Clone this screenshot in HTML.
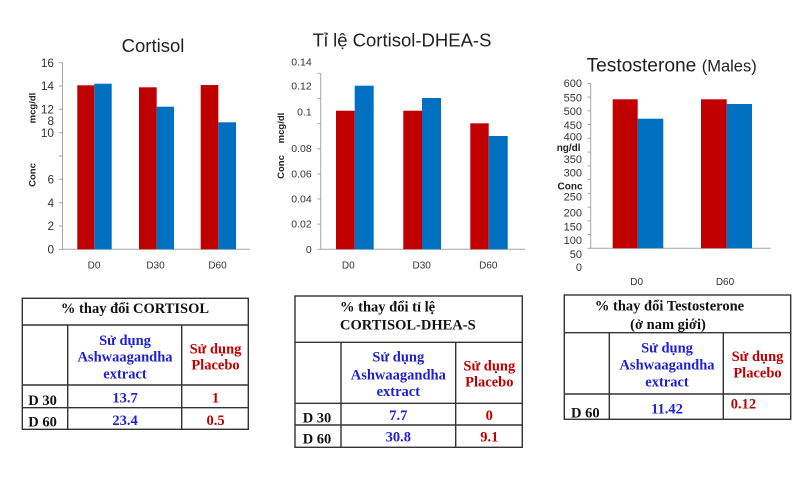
<!DOCTYPE html>
<html>
<head>
<meta charset="utf-8">
<style>
  html,body{margin:0;padding:0;background:#fff;}
  svg{display:block;}
  .t{font-family:"Liberation Sans",sans-serif;fill:#222;}
  .tk{font-family:"Liberation Sans",sans-serif;fill:#333;}
  .tb{font-family:"Liberation Serif",serif;font-weight:bold;font-size:14.5px;}
  .blue{fill:#1F1FD0;}
  .red{fill:#C00000;}
  .blk{fill:#111;}
</style>
</head>
<body>
<svg width="800" height="500" viewBox="0 0 800 500" xmlns="http://www.w3.org/2000/svg">
  <rect width="800" height="500" fill="#fff"/>

  <!-- ============ Chart 1: Cortisol ============ -->
  <text class="t" x="153" y="52" font-size="18.5" text-anchor="middle">Cortisol</text>
  <line x1="62.5" y1="62.7" x2="62.5" y2="249.3" stroke="#A6A6A6" stroke-width="1"/>
  <line x1="62" y1="249.3" x2="250" y2="249.3" stroke="#A6A6A6" stroke-width="1"/>
  <g stroke="#A6A6A6" stroke-width="1">
    <line x1="59" y1="62.7" x2="62.5" y2="62.7"/>
    <line x1="59" y1="86" x2="62.5" y2="86"/>
    <line x1="59" y1="109.3" x2="62.5" y2="109.3"/>
    <line x1="59" y1="132.7" x2="62.5" y2="132.7"/>
    <line x1="59" y1="156" x2="62.5" y2="156"/>
    <line x1="59" y1="179.3" x2="62.5" y2="179.3"/>
    <line x1="59" y1="202.7" x2="62.5" y2="202.7"/>
    <line x1="59" y1="226" x2="62.5" y2="226"/>
    <line x1="59" y1="249.3" x2="62.5" y2="249.3"/>
  </g>
  <g class="tk" font-size="11.8" text-anchor="end">
    <text x="54" y="66.8">16</text>
    <text x="54" y="90.1">14</text>
    <text x="54" y="113.4">12</text>
    <text x="54" y="125.1">8</text>
    <text x="54" y="136.8">10</text>
    <text x="54" y="183.4">6</text>
    <text x="54" y="206.8">4</text>
    <text x="54" y="230.1">2</text>
    <text x="54" y="253.4">0</text>
  </g>
  <text class="t" font-size="9.5" font-weight="bold" transform="translate(35.5,108) rotate(-90)" text-anchor="middle">mcg/dl</text>
  <text class="t" font-size="9.5" font-weight="bold" transform="translate(35.5,175) rotate(-90)" text-anchor="middle">Conc</text>
  <rect x="77.3" y="85.3" width="17" height="164" fill="#C00000"/>
  <rect x="94.3" y="83.7" width="17.4" height="165.6" fill="#0070C0"/>
  <rect x="139" y="87.3" width="17.7" height="162" fill="#C00000"/>
  <rect x="156.7" y="106.7" width="17.3" height="142.6" fill="#0070C0"/>
  <rect x="200.7" y="85" width="17.6" height="164.3" fill="#C00000"/>
  <rect x="218.3" y="122.3" width="17.7" height="127" fill="#0070C0"/>
  <g class="tk" font-size="10" text-anchor="middle">
    <text x="94" y="268.5">D0</text>
    <text x="155.5" y="268.5">D30</text>
    <text x="217.5" y="268.5">D60</text>
  </g>

  <!-- ============ Chart 2: Ratio ============ -->
  <text class="t" x="402" y="46.5" font-size="18.5" text-anchor="middle">Tỉ lệ Cortisol-DHEA-S</text>
  <line x1="320.7" y1="73.3" x2="320.7" y2="249.3" stroke="#A6A6A6" stroke-width="1"/>
  <line x1="320.7" y1="249.3" x2="525" y2="249.3" stroke="#A6A6A6" stroke-width="1"/>
  <g stroke="#A6A6A6" stroke-width="1">
    <line x1="317.5" y1="73.3" x2="320.7" y2="73.3"/>
    <line x1="317.5" y1="98.4" x2="320.7" y2="98.4"/>
    <line x1="317.5" y1="123.6" x2="320.7" y2="123.6"/>
    <line x1="317.5" y1="148.7" x2="320.7" y2="148.7"/>
    <line x1="317.5" y1="173.9" x2="320.7" y2="173.9"/>
    <line x1="317.5" y1="199" x2="320.7" y2="199"/>
    <line x1="317.5" y1="224.1" x2="320.7" y2="224.1"/>
    <line x1="317.5" y1="249.3" x2="320.7" y2="249.3"/>
  </g>
  <g class="tk" font-size="10.5" text-anchor="end">
    <text x="311.7" y="65.4">0.14</text>
    <text x="311.7" y="89.7">0.12</text>
    <text x="311.7" y="115.4">0.1</text>
    <text x="311.7" y="152">0.08</text>
    <text x="311.7" y="177.7">0.06</text>
    <text x="311.7" y="202.7">0.04</text>
    <text x="311.7" y="227.7">0.02</text>
    <text x="311.7" y="253">0</text>
  </g>
  <text class="t" font-size="9.5" font-weight="bold" transform="translate(284,128) rotate(-90)" text-anchor="middle">mcg/dl</text>
  <text class="t" font-size="9.5" font-weight="bold" transform="translate(284,167) rotate(-90)" text-anchor="middle">Conc</text>
  <rect x="336" y="110.7" width="18.7" height="138.6" fill="#C00000"/>
  <rect x="354.7" y="85.7" width="19" height="163.6" fill="#0070C0"/>
  <rect x="403.3" y="110.7" width="18.7" height="138.6" fill="#C00000"/>
  <rect x="422" y="98" width="19" height="151.3" fill="#0070C0"/>
  <rect x="470.3" y="123.3" width="18.4" height="126" fill="#C00000"/>
  <rect x="488.7" y="136" width="19" height="113.3" fill="#0070C0"/>
  <g class="tk" font-size="10" text-anchor="middle">
    <text x="348.3" y="268.5">D0</text>
    <text x="421.7" y="268.5">D30</text>
    <text x="488.3" y="268.5">D60</text>
  </g>

  <!-- ============ Chart 3: Testosterone ============ -->
  <text class="t" x="586.5" y="71.5" font-size="19.2">Testosterone <tspan font-size="16.5">(Males)</tspan></text>
  <line x1="590.7" y1="83.3" x2="590.7" y2="248.3" stroke="#A6A6A6" stroke-width="1"/>
  <line x1="590.7" y1="248.3" x2="770.7" y2="248.3" stroke="#A6A6A6" stroke-width="1"/>
  <g stroke="#A6A6A6" stroke-width="1">
    <line x1="587.5" y1="83.3" x2="590.7" y2="83.3"/>
    <line x1="587.5" y1="97.1" x2="590.7" y2="97.1"/>
    <line x1="587.5" y1="110.8" x2="590.7" y2="110.8"/>
    <line x1="587.5" y1="124.6" x2="590.7" y2="124.6"/>
    <line x1="587.5" y1="138.3" x2="590.7" y2="138.3"/>
    <line x1="587.5" y1="152.1" x2="590.7" y2="152.1"/>
    <line x1="587.5" y1="165.8" x2="590.7" y2="165.8"/>
    <line x1="587.5" y1="179.6" x2="590.7" y2="179.6"/>
    <line x1="587.5" y1="193.3" x2="590.7" y2="193.3"/>
    <line x1="587.5" y1="207.1" x2="590.7" y2="207.1"/>
    <line x1="587.5" y1="220.8" x2="590.7" y2="220.8"/>
    <line x1="587.5" y1="234.6" x2="590.7" y2="234.6"/>
    <line x1="587.5" y1="248.3" x2="590.7" y2="248.3"/>
  </g>
  <g class="tk" font-size="11" text-anchor="end">
    <text x="582" y="87.2">600</text>
    <text x="582" y="101.6">550</text>
    <text x="582" y="114.9">500</text>
    <text x="582" y="128.9">450</text>
    <text x="582" y="140.6">400</text>
    <text x="582" y="163.2">350</text>
    <text x="582" y="176.6">300</text>
    <text x="582" y="200.6">250</text>
    <text x="582" y="216.6">200</text>
    <text x="582" y="230.6">150</text>
    <text x="582" y="243.9">100</text>
    <text x="582" y="257.9">50</text>
    <text x="582" y="271.2">0</text>
  </g>
  <text class="t" x="556.7" y="151" font-size="10" font-weight="bold">ng/dl</text>
  <text class="t" x="557.5" y="189.7" font-size="10" font-weight="bold">Conc</text>
  <rect x="612.7" y="99.3" width="25" height="149" fill="#C00000"/>
  <rect x="637.7" y="118.7" width="25.6" height="129.6" fill="#0070C0"/>
  <rect x="701" y="99.3" width="25.7" height="149" fill="#C00000"/>
  <rect x="726.7" y="104" width="25.3" height="144.3" fill="#0070C0"/>
  <g class="tk" font-size="10" text-anchor="middle">
    <text x="636.7" y="285.2">D0</text>
    <text x="725" y="285.2">D60</text>
  </g>

  <!-- ============ Table 1 ============ -->
  <g fill="none" stroke="#333" stroke-width="1.4">
    <rect x="22.3" y="298.3" width="226" height="131"/>
    <line x1="22.3" y1="325" x2="248.3" y2="325"/>
    <line x1="22.3" y1="385" x2="248.3" y2="385"/>
    <line x1="22.3" y1="407.7" x2="248.3" y2="407.7"/>
    <line x1="67.7" y1="325" x2="67.7" y2="429.3"/>
    <line x1="181.7" y1="325" x2="181.7" y2="429.3"/>
  </g>
  <text class="tb blk" x="135" y="313.2" text-anchor="middle">% thay đổi CORTISOL</text>
  <g class="tb blue" text-anchor="middle">
    <text x="125" y="345">Sử dụng</text>
    <text x="125" y="361.7">Ashwaagandha</text>
    <text x="125" y="378.3">extract</text>
    <text x="125" y="402.3">13.7</text>
    <text x="125" y="425">23.4</text>
  </g>
  <g class="tb red" text-anchor="middle">
    <text x="215.5" y="353.3">Sử dụng</text>
    <text x="215.5" y="369.3">Placebo</text>
    <text x="215.5" y="402.3">1</text>
    <text x="215.5" y="425">0.5</text>
  </g>
  <text class="tb blk" x="28.3" y="405">D 30</text>
  <text class="tb blk" x="28.3" y="426.7">D 60</text>

  <!-- ============ Table 2 ============ -->
  <g fill="none" stroke="#333" stroke-width="1.4">
    <rect x="295" y="296" width="227.3" height="151.3"/>
    <line x1="295" y1="342.3" x2="522.3" y2="342.3"/>
    <line x1="295" y1="403.3" x2="522.3" y2="403.3"/>
    <line x1="295" y1="425" x2="522.3" y2="425"/>
    <line x1="341" y1="342.3" x2="341" y2="447.3"/>
    <line x1="455.7" y1="342.3" x2="455.7" y2="447.3"/>
  </g>
  <text class="tb blk" x="340" y="311.7">% thay đổi tỉ lệ</text>
  <text class="tb blk" x="340" y="329.3">CORTISOL-DHEA-S</text>
  <g class="tb blue" text-anchor="middle">
    <text x="398.3" y="361.7">Sử dụng</text>
    <text x="398.3" y="379.3">Ashwaagandha</text>
    <text x="398.3" y="396">extract</text>
    <text x="398.3" y="420">7.7</text>
    <text x="398.3" y="441.7">30.8</text>
  </g>
  <g class="tb red" text-anchor="middle">
    <text x="489.3" y="370.7">Sử dụng</text>
    <text x="489.3" y="386.7">Placebo</text>
    <text x="489.3" y="420">0</text>
    <text x="489.3" y="441.7">9.1</text>
  </g>
  <text class="tb blk" x="302.7" y="422.7">D 30</text>
  <text class="tb blk" x="302.7" y="443.3">D 60</text>

  <!-- ============ Table 3 ============ -->
  <g fill="none" stroke="#333" stroke-width="1.4">
    <rect x="564.3" y="295" width="226.4" height="124.3"/>
    <line x1="564.3" y1="332.7" x2="790.7" y2="332.7"/>
    <line x1="564.3" y1="394" x2="790.7" y2="394"/>
    <line x1="609.3" y1="332.7" x2="609.3" y2="419.3"/>
    <line x1="723.3" y1="332.7" x2="723.3" y2="419.3"/>
  </g>
  <text class="tb blk" x="669.5" y="310.7" text-anchor="middle">% thay đổi Testosterone</text>
  <text class="tb blk" x="668" y="329" text-anchor="middle">(ở nam giới)</text>
  <g class="tb blue" text-anchor="middle">
    <text x="667" y="352.3">Sử dụng</text>
    <text x="667" y="369.3">Ashwaagandha</text>
    <text x="667" y="386.7">extract</text>
    <text x="667" y="413.3">11.42</text>
  </g>
  <g class="tb red">
    <text x="757.5" y="361" text-anchor="middle">Sử dụng</text>
    <text x="757.5" y="377.3" text-anchor="middle">Placebo</text>
    <text x="730.7" y="408.3">0.12</text>
  </g>
  <text class="tb blk" x="571" y="417.3">D 60</text>
</svg>
</body>
</html>
